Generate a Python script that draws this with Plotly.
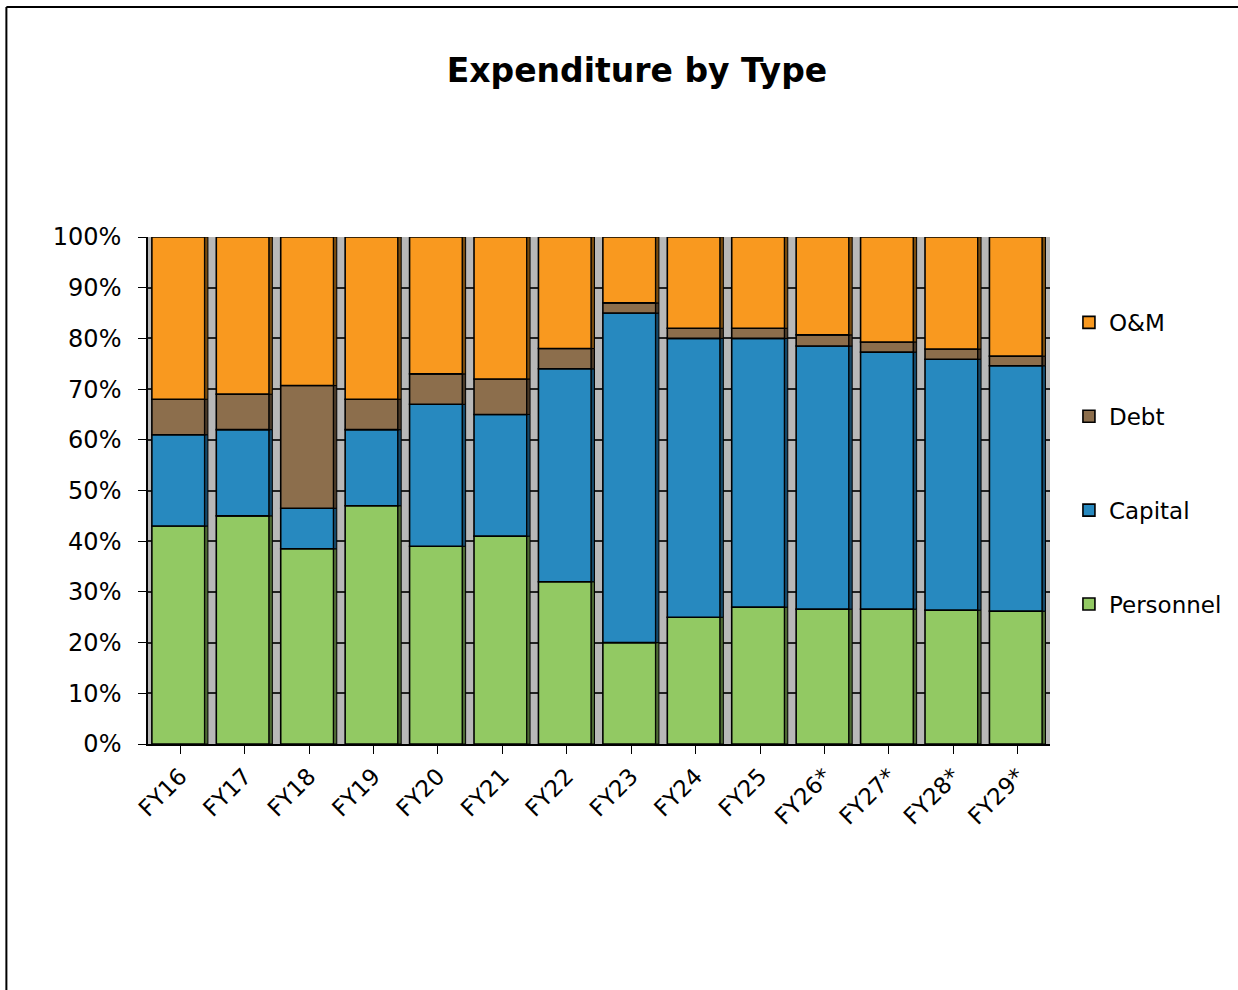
import numpy as np
import plotly.graph_objects as go

# Fiscal years and share of expenditure (%) by type
years = ["FY16", "FY17", "FY18", "FY19", "FY20", "FY21", "FY22", "FY23",
         "FY24", "FY25", "FY26*", "FY27*", "FY28*", "FY29*"]
personnel = [43, 45, 38.5, 47, 39, 41, 32, 20, 25, 27, 26.6, 26.6, 26.4, 26.2]
capital = [18, 17, 8, 15, 28, 24, 42, 65, 55, 53, 51.9, 50.7, 49.5, 48.4]
debt = [7, 7, 24.2, 6, 6, 7, 4, 2, 2, 2, 2.2, 2.0, 2.0, 1.9]
om = [32, 31, 29.3, 32, 27, 28, 22, 13, 18, 18, 19.3, 20.7, 22.1, 23.5]
pct_ticks = list(range(0, 101, 10))
pct_labels = [f"{v}%" for v in pct_ticks]

series = [
    ("Personnel", personnel, "#92C963", "#4E6B34"),
    ("Capital", capital, "#2789BF", "#15496A"),
    ("Debt", debt, "#8C6E4C", "#4A3A28"),
    ("O&M", om, "#F9991F", "#7A4C0E"),
]

FONT = "DejaVu Sans"
x = np.arange(len(years))
fig = go.Figure()
base = np.zeros(len(years))
for i, (name, vals, col, side) in enumerate(series):
    vals = np.array(vals, dtype=float)
    # front face of each column segment
    fig.add_trace(go.Bar(
        x=x, y=vals, base=base, name=name, width=0.82, offset=-0.44,
        marker=dict(color=col, line=dict(color="#000000", width=1.6)),
        legendgroup=name, legendrank=10 - i,
    ))
    # shaded side face giving the columns depth
    fig.add_trace(go.Bar(
        x=x, y=vals, base=base, width=0.05, offset=0.38,
        marker=dict(color=side, line=dict(color="#000000", width=1)),
        showlegend=False, hoverinfo="skip", legendgroup=name,
    ))
    base = base + vals

fig.update_layout(
    width=1238, height=990,
    barmode="overlay",
    paper_bgcolor="white",
    plot_bgcolor="#B8B8B8",
    margin=dict(l=148, r=188, t=237, b=246, autoexpand=False),
    font=dict(family=FONT, color="#000000", size=22),
    title=dict(text="<b>Expenditure by Type</b>", x=0.5145, xanchor="center",
               y=0.929, yanchor="middle", font=dict(family=FONT, size=33)),
    legend=dict(x=1.021, y=0.874, xanchor="left", yanchor="top",
                font=dict(family=FONT, size=23), tracegroupgap=61,
                itemwidth=30, bgcolor="rgba(0,0,0,0)"),
    shapes=[
        dict(type="line", xref="paper", yref="paper", x0=-0.157, x1=1.3,
             y0=1.4536, y1=1.4536, line=dict(color="#000000", width=2)),
        dict(type="line", xref="paper", yref="paper", x0=-0.157, x1=-0.157,
             y0=1.4536, y1=-0.6, line=dict(color="#000000", width=2)),
    ],
)
fig.update_xaxes(
    range=[-0.5, len(years) - 0.5],
    tickmode="array", tickvals=x, ticktext=years, tickangle=-45,
    tickson="boundaries", ticks="outside", ticklen=8, tickcolor="#000000",
    showline=True, linecolor="#000000", linewidth=1.5, showgrid=False,
    tickfont=dict(family=FONT, size=23), automargin=False,
)
fig.update_yaxes(
    range=[0, 100], tickmode="array", tickvals=pct_ticks, ticktext=pct_labels,
    ticks="outside", ticklen=8, tickcolor="#000000", ticklabelstandoff=12,
    showline=True, linecolor="#000000", linewidth=1.5,
    showgrid=True, gridcolor="#222222", gridwidth=1.5, zeroline=False,
    tickfont=dict(family=FONT, size=24), automargin=False,
)

fig.write_html("out.html")
